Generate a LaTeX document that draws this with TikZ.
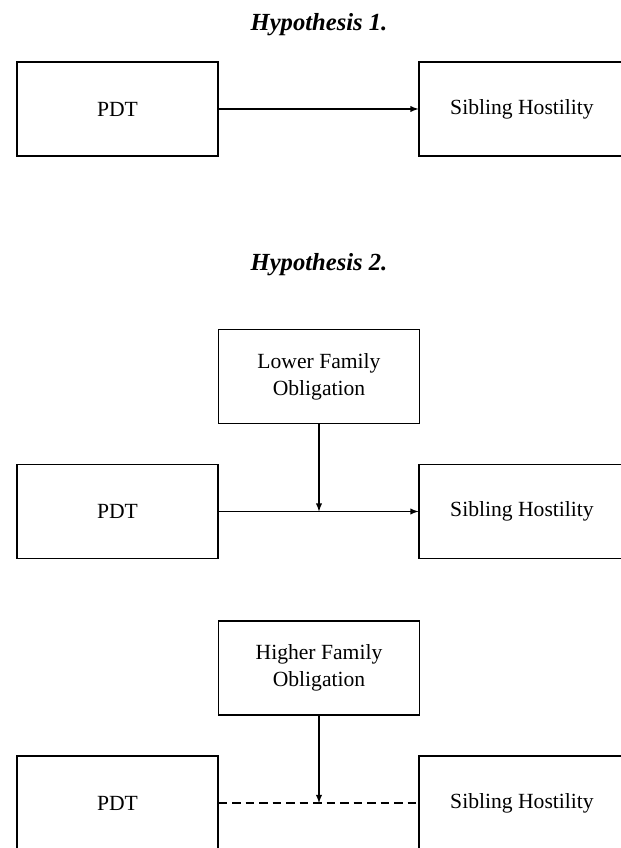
\documentclass[tikz,border=0pt]{standalone}
\usepackage{fontspec}
\setmainfont{Liberation Serif}
\begin{document}
\begin{tikzpicture}[>=latex, line width=0.6pt,
    box/.style={draw, minimum width=4.02cm, minimum height=1.88cm, inner sep=0pt,
        align=center, font=\fontsize{12.3}{15.3}\selectfont},
    widebox/.style={box, minimum width=4.12cm},
    hyptitle/.style={font=\fontsize{14}{16}\selectfont\bfseries\itshape}]
    \useasboundingbox (0,0) rectangle (12.4,16.96);

    % 1. Hypothesis 1
    \node[hyptitle] (titleA) at (6.38,16.46) {Hypothesis 1.};
    \node[box] (pdtA) at (2.35,14.78) {PDT};
    \node[widebox] (hostA) at (10.44,14.78) {Sibling Hostility};
    \draw[->] (pdtA) -- (hostA);

    % 2. Hypothesis 2, lower obligation
    \node[hyptitle] (titleB) at (6.38,11.66) {Hypothesis 2.};
    \node[box] (lowOb) at (6.38,9.43) {Lower Family\\Obligation};
    \node[box] (pdtB) at (2.35,6.73) {PDT};
    \node[widebox] (hostB) at (10.44,6.73) {Sibling Hostility};
    \draw[->] (pdtB) -- (hostB);
    \coordinate (midB) at (lowOb.south |- pdtB.east);
    \draw[->] (lowOb) -- (midB);

    % 3. Higher obligation
    \node[box] (highOb) at (6.38,3.6) {Higher Family\\Obligation};
    \node[box] (pdtC) at (2.35,0.9) {PDT};
    \node[widebox] (hostC) at (10.44,0.9) {Sibling Hostility};
    \draw[line width=1.5pt, dash pattern=on 0.17cm off 0.1cm] (pdtC) -- (hostC);
    \coordinate (midC) at (highOb.south |- pdtC.east);
    \draw[->] (highOb) -- (midC);
\end{tikzpicture}
\end{document}
